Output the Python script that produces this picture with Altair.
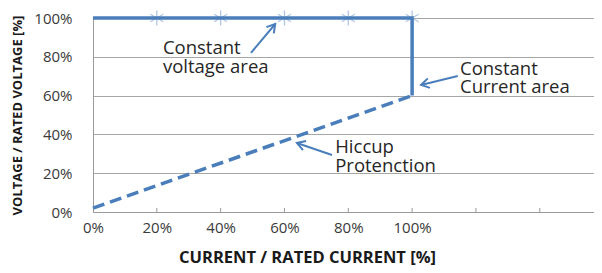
import altair as alt
import pandas as pd

# ---- data ----
cv_x = [0, 100, 100]          # constant voltage / constant current path
cv_y = [100, 100, 60]
hic_x = [0, 100]              # hiccup protection (dashed)
hic_y = [2, 60]
mark_x = [20, 40, 60, 80, 100]
mark_y = [100, 100, 100, 100, 100]
tick_x = [20, 40, 60, 80, 100, 120, 140]
x_label_vals = [0, 20, 40, 60, 80, 100]
y_label_vals = [0, 20, 40, 60, 80, 100]

note_text = ["Constant", "voltage area", "Constant", "Current area", "Hiccup", "Protenction"]
note_x = [21.9, 21.9, 115.0, 115.0, 75.9, 75.9]
note_y = [81.4, 71.6, 70.6, 61.3, 30.4, 20.6]

arr_x = [49.5, 114.3, 74.9]
arr_y = [82.0, 70.1, 29.4]
arr_x2 = [57.1, 102.8, 63.9]
arr_y2 = [96.9, 65.5, 35.6]
arr_angle = [39.6, 257.0, 288.9]

BLUE = "#4a7ebb"
FONT = "Open Sans"

xs = alt.Scale(domain=[0, 157], nice=False, zero=False)
ys = alt.Scale(domain=[0, 100], nice=False)

cv = pd.DataFrame({"x": cv_x, "y": cv_y, "o": range(len(cv_x))})
hic = pd.DataFrame({"x": hic_x, "y": hic_y})
mk = pd.DataFrame({"x": mark_x, "y": mark_y})
tk = pd.DataFrame({"x": tick_x, "y": [0] * len(tick_x), "y2": [2.1] * len(tick_x)})
notes = pd.DataFrame({"t": note_text, "x": note_x, "y": note_y})
arr = pd.DataFrame({"x": arr_x, "y": arr_y, "x2": arr_x2, "y2": arr_y2, "a": arr_angle})

xaxis = alt.Axis(values=x_label_vals, labelExpr="datum.value + '%'", grid=False, ticks=False,
                 domainColor="#9a9a9a", labelFont=FONT, labelFontSize=15, labelColor="#3a3a3a",
                 labelBaseline="alphabetic", labelPadding=20, labelFlush=False, labelOverlap=False,
                 title="CURRENT / RATED CURRENT [%]", titleFont=FONT, titleFontSize=16.5,
                 titleFontWeight="bold", titleColor="#1a1a1a", titleX=214, titleY=45,
                 titleBaseline="middle", titleAlign="center")
yaxis = alt.Axis(values=y_label_vals, labelExpr="datum.value + '%'", grid=True, gridColor="#a6a6a6",
                 ticks=False, domainColor="#9a9a9a", labelFont=FONT, labelFontSize=15,
                 labelColor="#3a3a3a", labelPadding=21, labelBaseline="middle",
                 labelFlush=False, labelOverlap=False,
                 title="VOLTAGE / RATED VOLTAGE [%]", titleFont=FONT, titleFontSize=13,
                 titleFontWeight="bold", titleColor="#1a1a1a", titleX=-76, titleY=97,
                 titleAngle=270, titleAlign="center", titleBaseline="middle")


def X(f):
    return alt.X(f, scale=xs, axis=xaxis)


def Y(f):
    return alt.Y(f, scale=ys, axis=yaxis)


ticks = alt.Chart(tk).mark_rule(color="#9a9a9a", strokeWidth=1).encode(
    x=X("x:Q"), y=Y("y:Q"), y2="y2:Q")

star_path = "M0,-1L0,1M-0.87,-0.5L0.87,0.5M-0.87,0.5L0.87,-0.5"
stars = alt.Chart(mk).mark_point(shape=star_path, size=220, color="#b0c6e2", filled=False,
                                 strokeWidth=1.3, opacity=1).encode(x=X("x:Q"), y=Y("y:Q"))

solid = alt.Chart(cv).mark_line(color=BLUE, strokeWidth=3.5, strokeJoin="miter").encode(
    x=X("x:Q"), y=Y("y:Q"), order="o:Q")

dashed = alt.Chart(hic).mark_line(color=BLUE, strokeWidth=3.5, strokeDash=[12, 6]).encode(
    x=X("x:Q"), y=Y("y:Q"))

shafts = alt.Chart(arr).mark_rule(color=BLUE, strokeWidth=2).encode(
    x=X("x:Q"), y=Y("y:Q"), x2="x2:Q", y2="y2:Q")

chev = "M-0.6,1L0,0L0.6,1"
heads = alt.Chart(arr).mark_point(shape=chev, size=260, color=BLUE, filled=False,
                                  strokeWidth=2, opacity=1).encode(
    x=X("x2:Q"), y=Y("y2:Q"), angle=alt.Angle("a:Q", scale=None))

texts = alt.Chart(notes).mark_text(font=FONT, fontSize=18.5, color="#262626", align="left",
                                   baseline="alphabetic").encode(
    x=X("x:Q"), y=Y("y:Q"), text="t:N")

chart = alt.layer(ticks, stars, solid, dashed, shafts, heads, texts).properties(
    width=501, height=194,
    autosize=alt.AutoSizeParams(type="none"),
    padding={"left": 85, "top": 10, "right": 0, "bottom": 60},
).configure_view(stroke=None).configure(background="white")

chart.save("out.html", embed_options={"renderer": "svg", "actions": False})
